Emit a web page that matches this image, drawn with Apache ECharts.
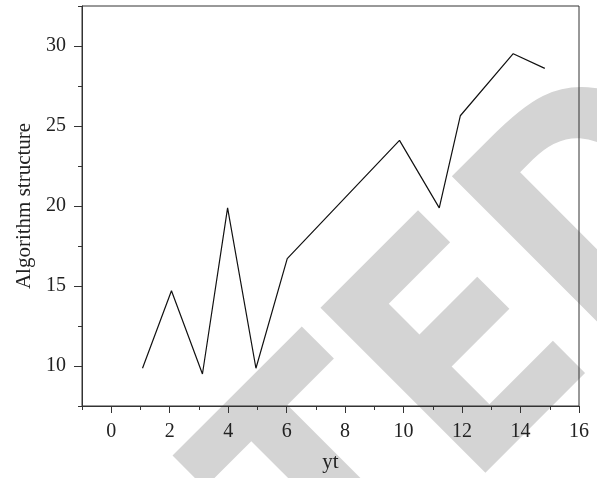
<!DOCTYPE html>
<html>
<head>
<meta charset="utf-8">
<script src="https://cdn.jsdelivr.net/npm/echarts@6/dist/echarts.min.js"></script>
<style>html,body{margin:0;padding:0;background:#fff}#c{width:597px;height:478px}</style>
</head>
<body>
<div id="c"></div>
<script>
const xValues = [1.07, 2.06, 3.12, 3.98, 4.95, 6.02, 9.86, 11.22, 11.94, 13.75, 14.83];
const yValues = [9.86, 14.7, 9.5, 19.88, 9.86, 16.71, 24.1, 19.88, 25.64, 29.52, 28.6];
const xMajorTicks = [0, 2, 4, 6, 8, 10, 12, 14, 16];
const xMinorTicks = [-1, 1, 3, 5, 7, 9, 11, 13, 15];
const yMajorTicks = [10, 15, 20, 25, 30];
const yMinorTicks = [7.5, 12.5, 17.5, 22.5, 27.5, 32.5];
const xName = 'yt';
const yName = 'Algorithm structure';
const watermark = 'RETRACTED';

const serif = '"Liberation Serif", "DejaVu Serif", serif';
const axisColor = '#333';
const chart = echarts.init(document.getElementById('c'), null, {renderer: 'canvas'});
const baseX = {type: 'value', min: -1, max: 16, gridIndex: 0, position: 'bottom', splitLine: {show: false}};
const baseY = {type: 'value', min: 7.5, max: 32.5, gridIndex: 0, position: 'left', splitLine: {show: false}};
chart.setOption({
  animation: false,
  backgroundColor: '#fff',
  grid: {left: 82, top: 6, right: 18, bottom: 70, show: true, borderColor: axisColor, borderWidth: 1, backgroundColor: 'transparent'},
  graphic: [{
    type: 'text', x: 700, y: 140.5, rotation: Math.PI / 4, scaleX: 0.85, z: -10, silent: true,
    style: {text: watermark, font: 'bold 320px "DejaVu Sans", sans-serif', fill: '#d4d4d4', textAlign: 'right', textVerticalAlign: 'middle', verticalAlign: 'middle'}
  }],
  xAxis: [
    Object.assign({}, baseX, {
      name: xName, nameLocation: 'middle', nameGap: 46,
      nameTextStyle: {fontFamily: serif, fontSize: 21, color: '#222'},
      axisLine: {show: true, onZero: false, lineStyle: {color: axisColor, width: 1}},
      axisTick: {show: true, inside: false, length: 7, customValues: xMajorTicks, lineStyle: {color: axisColor}},
      axisLabel: {show: true, margin: 16, customValues: xMajorTicks, fontFamily: serif, fontSize: 20, color: '#222'}
    }),
    Object.assign({}, baseX, {
      axisLine: {show: false, onZero: false},
      axisTick: {show: true, inside: false, length: 4, customValues: xMinorTicks, lineStyle: {color: axisColor}},
      axisLabel: {show: false}
    })
  ],
  yAxis: [
    Object.assign({}, baseY, {
      name: yName, nameLocation: 'middle', nameGap: 45,
      nameTextStyle: {fontFamily: serif, fontSize: 21, color: '#222'},
      axisLine: {show: true, onZero: false, lineStyle: {color: axisColor, width: 1}},
      axisTick: {show: true, inside: false, length: 8, customValues: yMajorTicks, lineStyle: {color: axisColor}},
      axisLabel: {show: true, margin: 16, customValues: yMajorTicks, fontFamily: serif, fontSize: 20, color: '#222'}
    }),
    Object.assign({}, baseY, {
      axisLine: {show: false, onZero: false},
      axisTick: {show: true, inside: false, length: 4, customValues: yMinorTicks, lineStyle: {color: axisColor}},
      axisLabel: {show: false}
    })
  ],
  series: [{
    type: 'line',
    xAxisIndex: 0, yAxisIndex: 0,
    data: xValues.map((x, i) => [x, yValues[i]]),
    showSymbol: false, symbol: 'none',
    lineStyle: {color: '#111', width: 1.2},
    z: 5
  }]
});
</script>
</body>
</html>
